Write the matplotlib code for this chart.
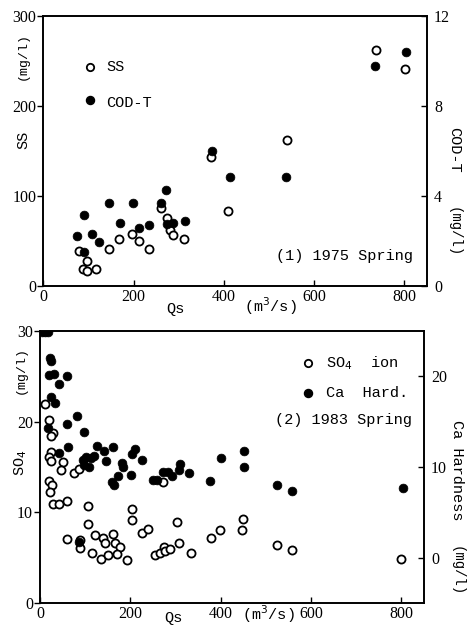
import matplotlib
matplotlib.use("Agg")
import matplotlib.pyplot as plt

# ---------------- data ----------------
# (1) 1975 Spring
ss_q = [79, 87, 96, 96, 117, 146, 168, 197, 212, 234, 260, 274, 280, 287, 312, 372, 409, 540, 736, 801]
ss_val = [39, 18.5, 16.5, 28, 19, 41.5, 52, 58, 50, 41.5, 87, 76, 62, 57, 52, 143, 83, 162, 262, 241]

cod_q = [74, 91, 91, 108, 123, 146, 169, 198, 212, 234, 260, 272, 274, 288, 314, 374, 413, 537, 734, 804]
cod_val = [2.22, 3.14, 1.5, 2.3, 1.97, 3.68, 2.81, 3.68, 2.56, 2.7, 3.7, 4.27, 2.75, 2.81, 2.87, 6.0, 4.83, 4.86, 9.8, 10.4]

# (2) 1983 Spring
so4_q = [10, 21, 29.5, 24, 24, 21, 24, 52, 46.5, 76, 86, 21, 27, 22, 28, 43, 59, 106, 107,
         60.5, 88.6, 88.6, 114.5, 122, 135, 140, 144, 151, 162, 166, 176, 170, 193, 204, 204,
         225, 240, 272, 255, 266, 275, 277, 288, 303, 308, 334, 378, 399, 449, 448, 524, 557, 800]
so4_val = [21.9, 20.2, 18.8, 18.4, 16.7, 16.1, 15.7, 15.5, 14.7, 14.3, 14.8, 13.5, 13.0, 12.2, 10.9, 10.9, 11.2, 10.7, 8.7,
           7.1, 7.0, 6.1, 5.5, 7.5, 4.9, 7.2, 6.6, 5.3, 7.6, 6.6, 6.2, 5.4, 4.7, 10.4, 9.2,
           7.75, 8.15, 13.3, 5.3, 5.5, 6.2, 5.7, 6.0, 8.9, 6.65, 5.5, 7.2, 8.05, 9.25, 8.05, 6.35, 5.9, 4.9]

ca_q = [5, 11, 17, 22, 24, 19, 32, 59, 43, 24, 34, 81, 17, 59, 98, 61, 41, 126, 142, 162, 145,
        210, 203, 225, 95, 102, 113, 120, 98, 108, 181, 183, 173, 159, 164, 201,
        250, 258, 273, 283, 292, 308, 310, 330, 376, 400, 451, 451, 524, 558, 803, 86]
ca_val = [24.9, 24.9, 24.9, 22.0, 21.7, 20.2, 20.3, 20.0, 19.1, 17.7, 17.1, 15.6, 14.3, 14.7, 13.9, 12.2, 11.5, 12.3, 11.8, 12.2, 10.7,
          11.95, 11.4, 10.8, 10.8, 11.1, 11.0, 11.2, 10.2, 10.0, 10.4, 10.0, 9.0, 8.4, 8.0, 9.1,
          8.56, 8.6, 9.5, 9.5, 9.0, 9.66, 10.3, 9.3, 8.5, 11.0, 11.8, 10.0, 8.0, 7.35, 7.7, 1.7]

top_left_ticks = [0, 100, 200, 300]
top_right_ticks = [0, 4, 8, 12]
bot_left_ticks = [0, 10, 20, 30]
bot_right_ticks = [0, 10, 20]
x_ticks = [0, 200, 400, 600, 800]

# ---------------- style ----------------
W, H = 468, 626
FONT = ['Liberation Mono', 'DejaVu Sans Mono']
TICKFONT = 'Liberation Serif'
plt.rcParams['font.family'] = FONT
plt.rcParams['font.size'] = 11

fig = plt.figure(figsize=(W / 100, H / 100), dpi=100)

def fx(px):
    return px / W

def fy(py):
    return 1 - py / H

OPEN = dict(s=34, facecolors='white', edgecolors='black', linewidths=1.3, zorder=3)
FILL = dict(s=40, facecolors='black', edgecolors='black', linewidths=0.5, zorder=4)

def style_axes(ax, ax2):
    for a in (ax, ax2):
        for sp in a.spines.values():
            sp.set_linewidth(1.2)
    ax.tick_params(axis='y', direction='out', length=4, width=1.0, labelsize=11.5, pad=1)
    ax.tick_params(axis='x', direction='in', length=4, width=1.0, labelsize=11.5, pad=2)
    ax2.tick_params(axis='y', direction='in', length=4, width=1.0, labelsize=11.5, pad=5)
    for lab in ax.get_xticklabels() + ax.get_yticklabels() + ax2.get_yticklabels():
        lab.set_fontfamily(TICKFONT)

# ---------------- top panel ----------------
ax = fig.add_axes([fx(43.3), fy(286), fx(427 - 43.3), (286 - 16) / H])
ax2 = ax.twinx()
ax.set_xlim(0, 850)
ax.set_ylim(0, 300)
ax2.set_ylim(0, 12)
ax.set_xticks(x_ticks)
ax.set_yticks(top_left_ticks)
ax2.set_yticks(top_right_ticks)
style_axes(ax, ax2)

ax.scatter(ss_q, ss_val, **OPEN)
ax2.scatter(cod_q, cod_val, **FILL)

# legend
fig.lines.append(plt.Line2D([fx(89.5)], [fy(67)], transform=fig.transFigure, marker='o', ms=5.3,
                            mfc='white', mec='black', mew=1.3, ls=''))
fig.lines.append(plt.Line2D([fx(90)], [fy(99.5)], transform=fig.transFigure, marker='o', ms=5.8,
                            mfc='black', mec='black', ls=''))
fig.text(fx(106), fy(67), 'SS', ha='left', va='center', fontsize=11)
fig.text(fx(106), fy(103), 'COD-T', ha='left', va='center', fontsize=11)
fig.text(fx(413), fy(256), '(1) 1975 Spring', ha='right', va='center', fontsize=11)

# axis labels
fig.text(fx(23), fy(140), 'SS', rotation=90, ha='center', va='center', fontsize=11)
fig.text(fx(23), fy(56), '(mg/l)', rotation=90, ha='center', va='center', fontsize=9.5)
fig.text(fx(454), fy(150), 'COD-T', rotation=-90, ha='center', va='center', fontsize=11)
fig.text(fx(454), fy(232), '(mg/l)', rotation=-90, ha='center', va='center', fontsize=10)
fig.text(fx(175), fy(309), 'Qs', ha='center', va='center', fontsize=11)
fig.text(fx(270), fy(306), '(m$^3$/s)', ha='center', va='center', fontsize=11)

# ---------------- bottom panel ----------------
bx = fig.add_axes([fx(40), fy(603), fx(424 - 40), (603 - 331) / H])
bx2 = bx.twinx()
bx.set_xlim(0, 850)
bx.set_ylim(0, 30)
bx2.set_ylim(-5, 25)
bx.set_xticks(x_ticks)
bx.set_yticks(bot_left_ticks)
bx2.set_yticks(bot_right_ticks)
style_axes(bx, bx2)

bx.scatter(so4_q, so4_val, **OPEN)
bx2.scatter(ca_q, ca_val, **FILL)

fig.lines.append(plt.Line2D([fx(308.3)], [fy(363.3)], transform=fig.transFigure, marker='o', ms=5.3,
                            mfc='white', mec='black', mew=1.3, ls=''))
fig.lines.append(plt.Line2D([fx(308.3)], [fy(393.3)], transform=fig.transFigure, marker='o', ms=5.8,
                            mfc='black', mec='black', ls=''))
fig.text(fx(326), fy(363), 'SO$_4$  ion', ha='left', va='center', fontsize=11)
fig.text(fx(326), fy(393), 'Ca  Hard.', ha='left', va='center', fontsize=11)
fig.text(fx(412), fy(420), '(2) 1983 Spring', ha='right', va='center', fontsize=11)

fig.text(fx(21), fy(463), 'SO$_4$', rotation=90, ha='center', va='center', fontsize=11)
fig.text(fx(21), fy(370), '(mg/l)', rotation=90, ha='center', va='center', fontsize=9.5)
fig.text(fx(457), fy(470), 'Ca Hardness', rotation=-90, ha='center', va='center', fontsize=11)
fig.text(fx(457), fy(571), '(mg/l)', rotation=-90, ha='center', va='center', fontsize=10)
fig.text(fx(173), fy(618), 'Qs', ha='center', va='center', fontsize=11)
fig.text(fx(268), fy(614), '(m$^3$/s)', ha='center', va='center', fontsize=11)

fig.savefig('out.png', dpi=100)
